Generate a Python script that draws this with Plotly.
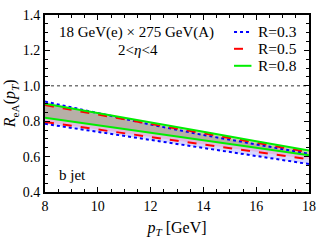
import plotly.graph_objects as go

pt = [8, 10, 12, 14, 16, 18]

r03_upper = [0.911, 0.845, 0.781, 0.722, 0.667, 0.616]
r03_lower = [0.785, 0.739, 0.692, 0.646, 0.601, 0.558]
r05_upper = [0.891, 0.838, 0.785, 0.732, 0.678, 0.625]
r05_lower = [0.795, 0.753, 0.711, 0.669, 0.627, 0.585]
r08_upper = [0.898, 0.844, 0.792, 0.740, 0.687, 0.635]
r08_lower = [0.819, 0.776, 0.734, 0.691, 0.649, 0.607]

labels = ["R=0.3", "R=0.5", "R=0.8"]
colors = ["#0000ff", "#ff0000", "#00ee00"]
fills = ["rgba(110,110,255,0.28)", "rgba(255,110,150,0.28)", "rgba(120,160,80,0.40)"]
dashes = ["dot", "dash", "solid"]
uppers = [r03_upper, r05_upper, r08_upper]
lowers = [r03_lower, r05_lower, r08_lower]

FONT = "Liberation Serif, Times New Roman, serif"

fig = go.Figure()

# filled bands
for i in range(3):
    fig.add_trace(go.Scatter(x=pt, y=lowers[i], mode="lines", line=dict(width=0),
                             showlegend=False, hoverinfo="skip"))
    fig.add_trace(go.Scatter(x=pt, y=uppers[i], mode="lines", line=dict(width=0),
                             fill="tonexty", fillcolor=fills[i],
                             showlegend=False, hoverinfo="skip"))

# boundary lines
for i in range(3):
    fig.add_trace(go.Scatter(x=pt, y=lowers[i], mode="lines",
                             line=dict(color=colors[i], width=2, dash=dashes[i]),
                             showlegend=False, hoverinfo="skip"))
    fig.add_trace(go.Scatter(x=pt, y=uppers[i], mode="lines", name=labels[i],
                             line=dict(color=colors[i], width=2, dash=dashes[i]),
                             showlegend=False))

# reference line at 1
fig.add_trace(go.Scatter(x=[8, 18], y=[1.0, 1.0], mode="lines",
                         line=dict(color="#777777", width=1.5, dash="dot"),
                         showlegend=False, hoverinfo="skip"))

# manual legend (short line samples like the reference)
leg_y = [0.904, 0.809, 0.713]
for i in range(3):
    fig.add_shape(type="line", xref="paper", yref="paper",
                  x0=0.716, x1=0.782, y0=leg_y[i], y1=leg_y[i],
                  line=dict(color=colors[i], width=2, dash=dashes[i]))
    fig.add_annotation(x=0.80, y=leg_y[i], xref="paper", yref="paper",
                       xanchor="left", yanchor="middle", text=labels[i], showarrow=False,
                       font=dict(family=FONT, size=15.5, color="black"))

axis_common = dict(showgrid=False, zeroline=False, showline=True, linecolor="black",
                   linewidth=2, mirror="allticks", ticks="inside", ticklen=5,
                   tickwidth=1.2, tickcolor="black",
                   tickfont=dict(family=FONT, size=14, color="black"))

fig.update_xaxes(range=[8, 18], tickvals=[8, 10, 12, 14, 16, 18],
                 minor=dict(dtick=0.5, ticks="inside", ticklen=3, tickcolor="black"),
                 title=dict(text="<i>p<sub>T</sub></i> [GeV]",
                            font=dict(family=FONT, size=16, color="black"), standoff=9),
                 **axis_common)
fig.update_yaxes(range=[0.4, 1.4], tickvals=[0.4, 0.6, 0.8, 1.0, 1.2, 1.4],
                 ticktext=["0.4", "0.6", "0.8", "1.0", "1.2", "1.4"],
                 minor=dict(dtick=0.05, ticks="inside", ticklen=3, tickcolor="black"),
                 **axis_common)

fig.add_annotation(x=-0.13, y=0.5, xref="paper", yref="paper", xanchor="center", yanchor="middle",
                   text="<i>R</i><sub>eA</sub>(<i>p<sub>T</sub></i>)", textangle=-90, showarrow=False,
                   font=dict(family=FONT, size=16, color="black"))

fig.add_annotation(x=0.044, y=0.899, xref="paper", yref="paper", xanchor="left", yanchor="middle",
                   text="18 GeV(e) × 275 GeV(A)", showarrow=False,
                   font=dict(family=FONT, size=15, color="black"))
fig.add_annotation(x=0.354, y=0.805, xref="paper", yref="paper", xanchor="center", yanchor="middle",
                   text="2&lt;<i>η</i>&lt;4", showarrow=False,
                   font=dict(family=FONT, size=15, color="black"))
fig.add_annotation(x=0.046, y=0.096, xref="paper", yref="paper", xanchor="left", yanchor="middle",
                   text="b jet", showarrow=False,
                   font=dict(family=FONT, size=15, color="black"))

fig.update_layout(
    width=324, height=242,
    margin=dict(l=45, r=8, t=9, b=45),
    paper_bgcolor="white", plot_bgcolor="white",
    showlegend=False,
)

fig.write_html("out.html", config={"displayModeBar": False},
               post_script="document.body.style.margin='0';")
